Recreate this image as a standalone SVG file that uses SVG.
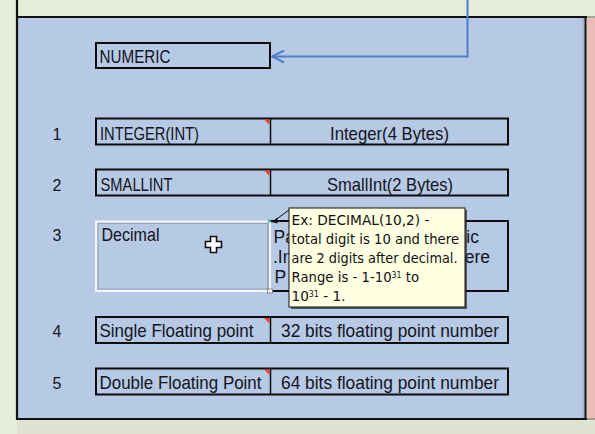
<svg xmlns="http://www.w3.org/2000/svg" width="595" height="434" viewBox="0 0 595 434">
<style>
.cell{font-family:"Liberation Sans",Arial,sans-serif;font-size:19px;fill:#141420}
.frag{font-family:"Liberation Sans",Arial,sans-serif;font-size:17.5px;fill:#141420}
.num{font-family:"Liberation Sans",Arial,sans-serif;font-size:16px;fill:#141420;text-anchor:middle}
.tip{font-family:"DejaVu Sans",Verdana,sans-serif;font-size:14.5px;fill:#111}
.sup{font-size:8.5px}
.box{fill:none;stroke:#0d0d0d;stroke-width:2}
.div{stroke:#0d0d0d;stroke-width:1.5}
.flag{fill:#e8452c}
</style>
<defs>
<marker id="openArrow" markerWidth="14" markerHeight="14" refX="13" refY="7" orient="auto" markerUnits="userSpaceOnUse">
<path d="M1,1 L13,7 L1,13" fill="none" stroke="#4d7fc6" stroke-width="2"/>
</marker>
<clipPath id="outsideTip">
<rect x="270" y="221" width="19" height="70"/>
<rect x="465" y="221" width="43" height="70"/>
</clipPath>
</defs>
<!-- background -->
<rect x="0" y="0" width="595" height="434" fill="#e6edd8"/>
<rect x="17" y="419" width="578" height="15" fill="#dde3d0"/>
<rect x="17" y="17" width="569" height="402" fill="#b6cae5"/>
<rect x="587" y="18" width="8" height="401" fill="#ecbcb6"/>
<line x1="583" y1="18" x2="583" y2="418" stroke="#9aa9bf" stroke-width="1"/>
<line x1="17" y1="0" x2="17" y2="420" stroke="#111" stroke-width="2.2"/>
<line x1="16" y1="17" x2="587" y2="17" stroke="#111" stroke-width="2.2"/>
<line x1="587" y1="17" x2="595" y2="17" stroke="#777" stroke-width="1.2"/>
<line x1="585.5" y1="17" x2="585.5" y2="420" stroke="#111" stroke-width="2"/>
<line x1="16" y1="419" x2="587" y2="419" stroke="#111" stroke-width="2.2"/>
<line x1="587" y1="419" x2="595" y2="419" stroke="#777" stroke-width="1.2"/>

<g id="connectors">
<path d="M467.5,0 V56.5 H272" fill="none" stroke="#4d7fc6" stroke-width="2" marker-end="url(#openArrow)"/>
</g>

<g id="numeric">
<rect x="96" y="43" width="174" height="25" fill="#eef0db" class="box"/>
<text class="cell" x="99.5" y="63" textLength="71" lengthAdjust="spacingAndGlyphs">NUMERIC</text>
</g>

<g id="row1">
<text class="num" x="57" y="139.5">1</text>
<rect x="96" y="118.5" width="412" height="26" class="box"/>
<line x1="270.5" y1="118.5" x2="270.5" y2="144.5" class="div"/>
<polygon class="flag" points="264,119.5 269.5,119.5 269.5,125"/>
<text class="cell" x="100" y="139.5" textLength="99" lengthAdjust="spacingAndGlyphs">INTEGER(INT)</text>
<text class="cell" x="330" y="139.5" textLength="119" lengthAdjust="spacingAndGlyphs">Integer(4 Bytes)</text>
</g>

<g id="row2">
<text class="num" x="57" y="190.5">2</text>
<rect x="96" y="169.5" width="412" height="26" class="box"/>
<line x1="270.5" y1="169.5" x2="270.5" y2="195.5" class="div"/>
<polygon class="flag" points="264,170.5 269.5,170.5 269.5,176"/>
<text class="cell" x="100.5" y="190.5" textLength="72" lengthAdjust="spacingAndGlyphs">SMALLINT</text>
<text class="cell" x="327" y="190.5" textLength="126" lengthAdjust="spacingAndGlyphs">SmallInt(2 Bytes)</text>
</g>

<g id="row3">
<text class="num" x="57" y="240.5">3</text>
<path d="M270,221 H508 V291 H270" fill="none" stroke="#0d0d0d" stroke-width="2"/>
<g clip-path="url(#outsideTip)">
<text class="frag" x="273.5" y="243">Pa</text>
<text class="frag" x="273" y="262.5">.In</text>
<text class="frag" x="274.5" y="282.5">P</text>
<text class="frag" x="479" y="243" text-anchor="end">ic</text>
<text class="frag" x="490" y="262.5" text-anchor="end">ere</text>
</g>
<rect x="96" y="221.5" width="174" height="69.5" fill="none" stroke="#f4f6f8" stroke-width="2"/>
<rect x="98" y="223.5" width="170" height="65.5" fill="none" stroke="#8d99a8" stroke-width="0.8"/>
<line x1="270" y1="221" x2="270" y2="291" stroke="#f4f6f8" stroke-width="2"/>
<line x1="268" y1="223" x2="268" y2="289" stroke="#8d99a8" stroke-width="0.8"/>
<rect x="268" y="219.5" width="3" height="3" fill="#3cb4b4"/>
<rect x="267.5" y="289" width="5" height="4" fill="#f4f4f4" stroke="#777" stroke-width="0.8"/>
<text class="cell" x="101.5" y="240.5" textLength="58" lengthAdjust="spacingAndGlyphs">Decimal</text>
<path d="M210.5,236.5 h6 v5 h5 v6 h-5 v5 h-6 v-5 h-5 v-6 h5 z" fill="#fff" stroke="#111" stroke-width="1.6"/>
</g>

<g id="tooltip">
<line x1="289" y1="210" x2="274" y2="221" stroke="#111" stroke-width="1"/>
<polygon points="271.5,222 277.5,217.5 277.5,223.5" fill="#111"/>
<rect x="291" y="210" width="176" height="99" fill="#333" opacity="0.75"/>
<rect x="289" y="208" width="176" height="99" fill="#ffffe1" stroke="#111" stroke-width="1"/>
<text class="tip" x="291.5" y="224.5" textLength="138" lengthAdjust="spacingAndGlyphs">Ex: DECIMAL(10,2) -</text>
<text class="tip" x="291.5" y="243.5" textLength="167.5" lengthAdjust="spacingAndGlyphs">total digit is 10 and there</text>
<text class="tip" x="291.5" y="262.5" textLength="166" lengthAdjust="spacingAndGlyphs">are 2 digits after decimal.</text>
<text class="tip" x="291.5" y="281.5" textLength="127.5" lengthAdjust="spacingAndGlyphs">Range is - 1-10<tspan class="sup" baseline-shift="45%">31</tspan> to</text>
<text class="tip" x="291.5" y="300.5" textLength="54" lengthAdjust="spacingAndGlyphs">10<tspan class="sup" baseline-shift="45%">31</tspan> - 1.</text>
</g>

<g id="row4">
<text class="num" x="57" y="337">4</text>
<rect x="96" y="317" width="412" height="26" class="box"/>
<line x1="270.5" y1="317" x2="270.5" y2="343" class="div"/>
<polygon class="flag" points="264,318 269.5,318 269.5,323.5"/>
<text class="cell" x="99.5" y="337" textLength="154" lengthAdjust="spacingAndGlyphs">Single Floating point</text>
<text class="cell" x="281" y="337" textLength="218" lengthAdjust="spacingAndGlyphs">32 bits floating point number</text>
</g>

<g id="row5">
<text class="num" x="57" y="388.5">5</text>
<rect x="96" y="368.5" width="412" height="26" class="box"/>
<line x1="270.5" y1="368.5" x2="270.5" y2="394.5" class="div"/>
<polygon class="flag" points="264,369.5 269.5,369.5 269.5,375"/>
<text class="cell" x="99.5" y="388.5" textLength="162" lengthAdjust="spacingAndGlyphs">Double Floating Point</text>
<text class="cell" x="281" y="388.5" textLength="218" lengthAdjust="spacingAndGlyphs">64 bits floating point number</text>
</g>
</svg>
